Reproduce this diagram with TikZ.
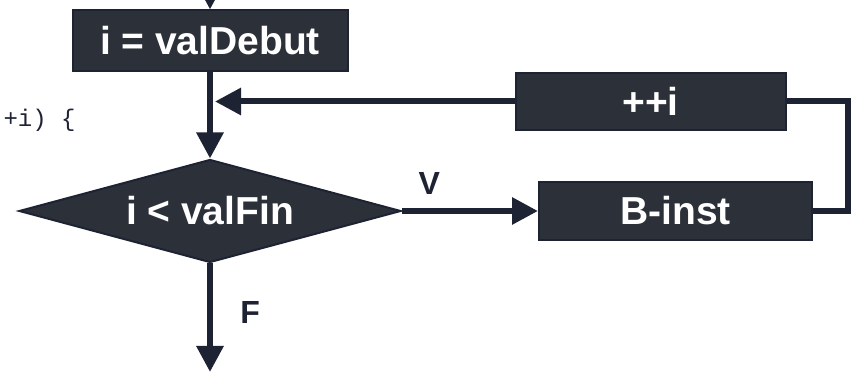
\documentclass[tikz,border=0pt]{standalone}
\usepackage{fontspec}
\setmainfont{Liberation Sans}
\setmonofont{Liberation Mono}
\usetikzlibrary{arrows.meta, shapes.geometric, positioning}
\definecolor{slatebox}{RGB}{44,48,56}
\definecolor{inkblue}{RGB}{30,35,52}

\begin{document}
\begin{tikzpicture}[x=1pt, y=1pt,
        box/.style={draw=inkblue, line width=2pt, fill=slatebox, text=white,
                    font=\fontsize{39}{41}\selectfont\bfseries,
                    minimum height=58pt, inner sep=0pt},
        arr/.style={-{Triangle[length=26pt, width=26pt]}, line width=6pt, draw=inkblue},
        link/.style={line width=6pt, draw=inkblue},
        lbl/.style={font=\fontsize{32}{34}\selectfont\bfseries, text=inkblue}
      ]
        \useasboundingbox (0,0) rectangle (858,374);
        \node[box, diamond, aspect=3.7, minimum width=382pt, minimum height=103pt]
          (test) at (210,163) {i < valFin};
        \node[box, minimum width=275pt, minimum height=61pt, above=86pt of test]
          (init) {i = valDebut};
        \node[box, minimum width=273pt, right=136pt of test] (body) {B-inst};
        \node[box, minimum width=270pt, minimum height=57pt, above=50pt of body, xshift=-25pt]
          (incr) {++i};
        \node[font=\ttfamily\fontsize{24}{26}\selectfont, text=inkblue, anchor=west]
          (code) at (0,254) {+i) \{};
        \coordinate (top) at (210,394);
        \coordinate (out) at (210,2);
        \coordinate (join) at (init.south |- incr.west);
        \draw[arr] (top) -- (init.north);
        \draw[arr] (init.south) -- (test.north);
        \draw[arr] (incr.west) -- ([xshift=5pt]join);
        \draw[arr] (test.east) -- node[lbl, above=10pt, pos=0.2] (vlbl) {V} (body.west);
        \draw[link] (body.east) -- ++(35,0) |- (incr.east);
        \draw[arr] (test.south) -- node[lbl, right=24pt, pos=0.45] (flbl) {F} (out);
      \end{tikzpicture}
\end{document}
